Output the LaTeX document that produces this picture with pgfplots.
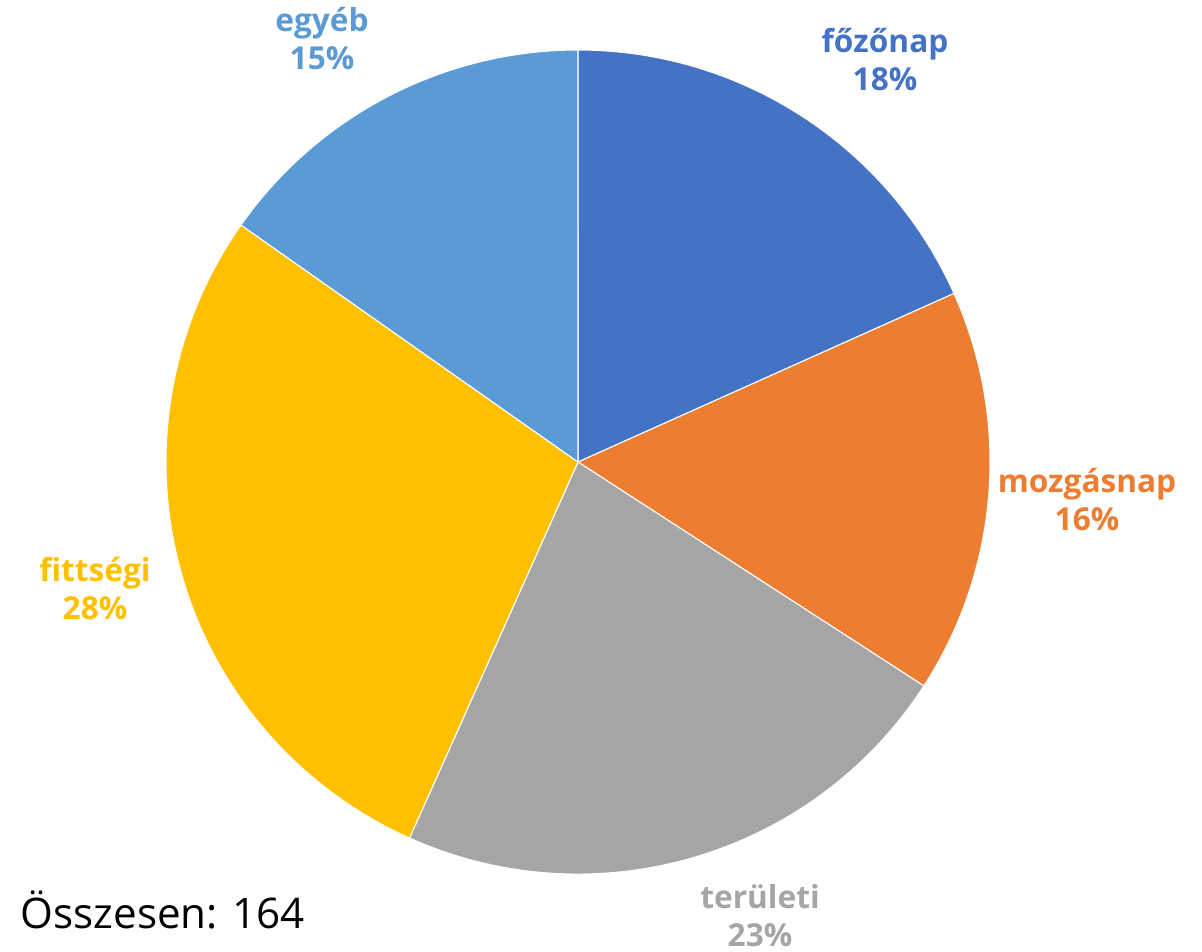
\documentclass[border=0pt]{standalone}
\usepackage{pgfplots}
\usepackage{pgfplotstable}
\pgfplotsset{compat=1.18}
\usepackage{fontspec}
\setmainfont{Open Sans}

\definecolor{cfoz}{HTML}{4472C4}
\definecolor{cmoz}{HTML}{ED7D31}
\definecolor{cter}{HTML}{A5A5A5}
\definecolor{cfit}{HTML}{FFC000}
\definecolor{cegy}{HTML}{5B9BD5}

% counts per category, total 164
\pgfplotstableread{
cat count col
fozonap 30 cfoz
mozgasnap 26 cmoz
teruleti 37 cter
fittsegi 46 cfit
egyeb 25 cegy
}\piedata

\begin{document}
\begin{tikzpicture}
\begin{axis}[
  width=12.02cm, height=9.51cm, scale only axis,
  xmin=0, xmax=1202, ymin=0, ymax=951,
  hide axis, clip=false,
]
\pgfplotsextra{
  \coordinate (ll) at (axis cs:0,0);
  \coordinate (ur) at (axis cs:1202,951);
  \def\startangle{90}
  \foreach \i in {0,...,4} {
    \pgfplotstablegetelem{\i}{count}\of\piedata
    \pgfmathsetmacro\sweep{\pgfplotsretval/164*360}
    \pgfplotstablegetelem{\i}{col}\of\piedata
    \let\slicecol\pgfplotsretval
    \pgfmathsetmacro\endangle{\startangle-\sweep}
    \fill[fill=\slicecol, draw=white, line width=0.3pt]
      (axis cs:578,489) -- ++(\startangle:4.12cm)
      arc[start angle=\startangle, end angle=\endangle, radius=4.12cm] -- cycle;
    \xdef\startangle{\endangle}
  }
}
\begin{scope}[font=\fontsize{9}{10.8}\selectfont\bfseries, align=center]
\node[text=cfoz] at (axis cs:885,891) {főzőnap\\18\%};
\node[text=cmoz] at (axis cs:1087,451) {mozgásnap\\16\%};
\node[text=cter] at (axis cs:760,35) {területi\\23\%};
\node[text=cfit] at (axis cs:95,362) {fittségi\\28\%};
\node[text=cegy] at (axis cs:322,912) {egyéb\\15\%};
\end{scope}
\node[anchor=west, font=\fontsize{12}{14}\selectfont, inner sep=0pt] at (axis cs:20,41) {Összesen: 164};
\end{axis}
\pgfresetboundingbox
\useasboundingbox (ll) rectangle (ur);
\end{tikzpicture}
\end{document}
